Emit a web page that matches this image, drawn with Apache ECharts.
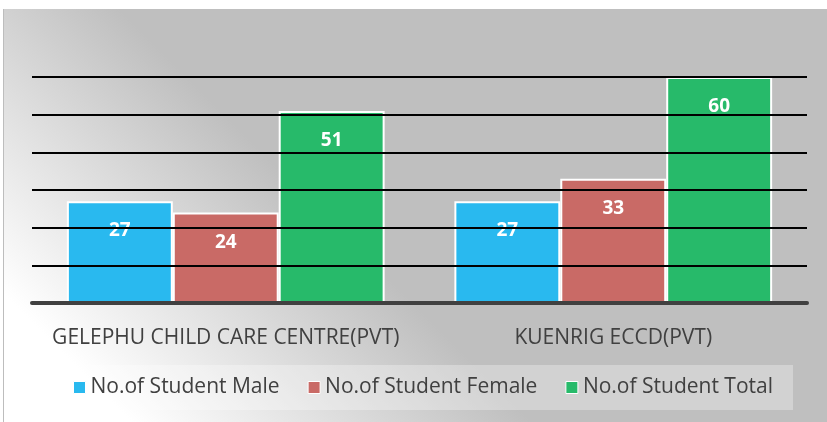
<!DOCTYPE html>
<html>
<head>
<meta charset="utf-8">
<script src="https://cdn.jsdelivr.net/npm/echarts@6/dist/echarts.min.js"></script>
<style>
html,body{margin:0;padding:0;background:#fff;}
#main{position:absolute;left:3px;top:9px;width:823px;height:413px;border-left:1px solid #bdbdbd;}
</style>
</head>
<body>
<div id="main"></div>
<script>
// data
var categories = ['GELEPHU CHILD CARE CENTRE(PVT)', 'KUENRIG ECCD(PVT)'];
var seriesNames = ['No.of Student Male', 'No.of Student Female', 'No.of Student Total'];
var maleValues = [27, 27];
var femaleValues = [24, 33];
var totalValues = [51, 60];
var colors = ['#29b9ef', '#c96a66', '#27ba6a'];

var chart = echarts.init(document.getElementById('main'));

function barSeries(name, values, color){
  return {
    name: name,
    type: 'bar',
    barGap: 0,
    barCategoryGap: '18%',
    data: values,
    itemStyle: {color: color, borderColor: '#ffffff', borderWidth: 2},
    label: {
      show: true,
      position: 'insideTop',
      distance: 20,
      color: '#ffffff',
      fontWeight: 'bold',
      fontSize: 19,
      fontFamily: 'Open Sans'
    }
  };
}

var options = {
  animation: false,
  backgroundColor: {
    type: 'linear', x: 0, y: 285, x2: 200, y2: 85, global: true,
    colorStops: [{offset: 0, color: '#ffffff'}, {offset: 1, color: '#bfbfbf'}]
  },
  textStyle: {fontFamily: 'Open Sans'},
  grid: {left: 28, right: 20, top: 68, bottom: 119},
  legend: {
    data: seriesNames,
    left: 41,
    top: 356,
    padding: [12, 20, 12, 28],
    backgroundColor: 'rgba(255,255,255,0.3)',
    itemWidth: 12,
    itemHeight: 12,
    itemGap: 28,
    icon: 'rect',
    itemStyle: {borderColor: '#ffffff', borderWidth: 1},
    textStyle: {color: '#404040', fontSize: 21, fontFamily: 'Open Sans'}
  },
  xAxis: {
    type: 'category',
    data: categories,
    z: 11,
    axisLine: {lineStyle: {color: '#404040', width: 4}},
    axisTick: {show: false},
    axisLabel: {interval: 0, color: '#404040', fontSize: 21, margin: 25, fontFamily: 'Open Sans'}
  },
  yAxis: {
    type: 'value',
    min: 0,
    max: 60,
    interval: 10,
    z: 10,
    axisLine: {show: false},
    axisTick: {show: false},
    axisLabel: {show: false},
    splitLine: {lineStyle: {color: '#000000', width: 2}}
  },
  series: [
    barSeries(seriesNames[0], maleValues, colors[0]),
    barSeries(seriesNames[1], femaleValues, colors[1]),
    barSeries(seriesNames[2], totalValues, colors[2])
  ]
};
chart.setOption(options);
</script>
</body>
</html>
